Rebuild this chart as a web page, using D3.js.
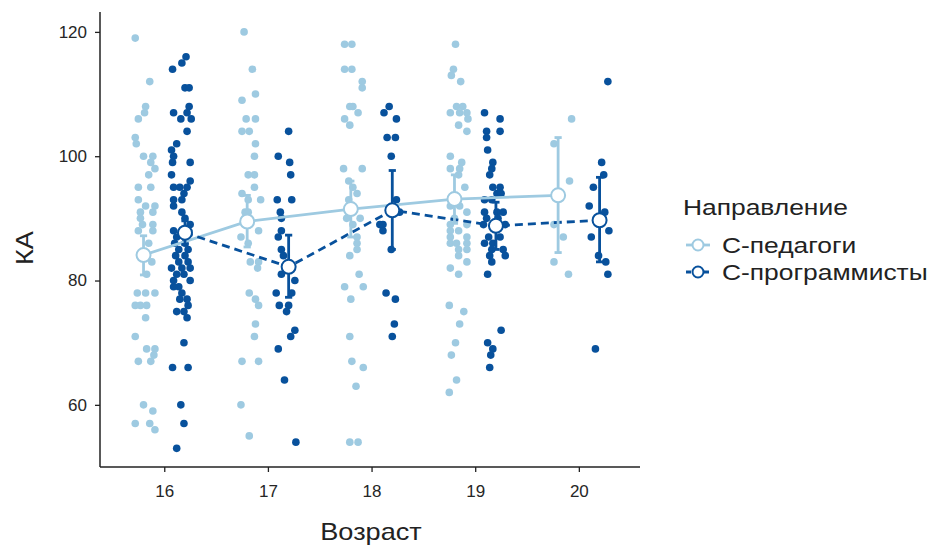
<!DOCTYPE html>
<html><head><meta charset="utf-8">
<script src="https://cdn.jsdelivr.net/npm/d3@7"></script>
<style>body{margin:0;background:#fff}svg{display:block}text{font-family:"Liberation Sans",Arial,Helvetica,sans-serif}</style>
</head><body>
<svg id="chart" width="936" height="548"></svg>
<script>
// ---- data ----
const ages = [16, 17, 18, 19, 20];
const groups = ["С-педагоги", "С-программисты"];
const xTicks = [16, 17, 18, 19, 20];
const yTicks = [60, 80, 100, 120];

// jittered raw points: [x position (age units), КА]
const pointsPed = [
 [15.72,119],[15.86,112],[15.82,108],[15.81,107],[15.75,106],[15.72,103],[15.73,102],[15.80,100],[15.89,100],
 [15.87,99],[15.91,98],[15.85,97],[15.75,95],[15.87,95],[15.75,93],[15.82,92],[15.91,92],[15.77,91],[15.89,91],
 [15.77,90],[15.79,89],[15.89,89],[15.75,88],[15.89,88],[15.85,86],[15.88,83],[15.83,81],[15.74,78],[15.82,78],
 [15.91,78],[15.72,76],[15.77,76],[15.83,76],[15.82,74],[15.72,71],[15.83,69],[15.91,69],[15.90,68],[15.75,67],
 [15.87,67],[15.80,60],[15.89,59],[15.72,57],[15.86,57],[15.91,56],
 [16.77,120],[16.85,114],[16.88,110],[16.75,109],[16.79,106],[16.88,106],[16.75,104],[16.82,104],[16.88,102],
 [16.87,100],[16.81,97],[16.87,97],[16.87,95],[16.75,94],[16.81,93],[16.93,93],[16.78,91],[16.81,91],[16.74,87],
 [16.91,88],[16.81,86],[16.83,83],[16.91,83],[16.90,82],[16.82,78],[16.88,77],[16.91,76],[16.88,73],[16.87,71],
 [16.75,67],[16.91,67],[16.74,60],[16.82,55],
 [17.74,118],[17.81,118],[17.74,114],[17.81,114],[17.91,112],[17.91,111],[17.79,108],[17.82,108],[17.87,107],
 [17.74,106],[17.79,105],[17.73,98],[17.91,98],[17.78,96],[17.82,95],[17.86,94],[17.78,93],[17.81,92],[17.76,90],
 [17.89,90],[17.82,89],[17.86,87],[17.86,86],[17.86,85],[17.79,84],[17.88,81],[17.74,79],[17.92,79],[17.80,77],
 [17.79,71],[17.81,67],[17.92,66],[17.85,63],[17.79,54],[17.87,54],
 [18.81,118],[18.79,114],[18.77,113],[18.86,112],[18.82,108],[18.88,108],[18.92,107],[18.76,107],[18.85,107],
 [18.93,106],[18.84,105],[18.92,104],[18.76,100],[18.87,99],[18.76,98],[18.85,98],[18.84,97],[18.90,95],[18.76,92],
 [18.85,92],[18.92,91],[18.76,89],[18.80,90],[18.92,89],[18.76,88],[18.84,88],[18.76,87],[18.92,87],[18.76,86],
 [18.82,86],[18.92,86],[18.84,85],[18.92,85],[18.84,84],[18.92,83],[18.76,82],[18.84,81],[18.75,76],[18.89,75],
 [18.85,73],[18.81,70],[18.77,68],[18.82,64],[18.75,62],
 [19.93,106],[19.76,102],[19.91,96],[19.76,89],[19.85,87],[19.76,83],[19.90,81]
];
const pointsProg = [
 [16.21,116],[16.17,115],[16.08,114],[16.20,111],[16.24,111],[16.24,108],[16.09,107],[16.22,107],[16.16,106],
 [16.26,106],[16.22,104],[16.12,102],[16.07,101],[16.09,100],[16.08,99],[16.25,99],[16.07,97],[16.25,96],
 [16.09,95],[16.15,95],[16.22,95],[16.19,94],[16.09,93],[16.17,93],[16.09,92],[16.17,91],[16.20,90],[16.09,88],
 [16.22,88],[16.12,87],[16.25,89],[16.10,86],[16.20,86],[16.14,85],[16.23,85],[16.11,84],[16.20,84],[16.14,83],
 [16.23,83],[16.07,82],[16.17,82],[16.25,82],[16.12,81],[16.19,81],[16.09,80],[16.25,80],[16.14,79],[16.09,79],
 [16.17,78],[16.22,77],[16.15,77],[16.23,76],[16.12,75],[16.19,75],[16.22,74],[16.19,70],[16.08,66],[16.23,66],
 [16.16,60],[16.19,57],[16.12,53],
 [17.20,104],[17.10,100],[17.21,99],[17.22,97],[17.09,93],[17.23,93],[17.12,91],[17.13,90],[17.13,88],[17.10,87],
 [17.13,85],[17.15,84],[17.13,81],[17.26,80],[17.08,78],[17.23,78],[17.11,76],[17.20,76],[17.18,75],[17.26,72],
 [17.22,71],[17.10,69],[17.16,64],[17.27,54],
 [18.17,108],[18.12,107],[18.24,106],[18.15,103],[18.23,103],[18.19,100],[18.24,93],[18.27,91],[18.08,89],
 [18.11,89],[18.11,88],[18.19,85],[18.14,78],[18.23,77],[18.22,73],[18.20,71],
 [19.09,107],[19.24,106],[19.11,104],[19.24,104],[19.11,103],[19.12,101],[19.17,99],[19.16,98],[19.14,97],
 [19.17,95],[19.24,95],[19.21,94],[19.25,94],[19.09,93],[19.16,93],[19.09,91],[19.21,91],[19.27,91],[19.11,90],
 [19.22,90],[19.08,89],[19.29,89],[19.13,87],[19.24,87],[19.09,86],[19.17,86],[19.16,85],[19.27,85],[19.14,84],
 [19.29,84],[19.16,83],[19.12,81],[19.25,72],[19.12,70],[19.17,69],[19.15,68],[19.14,66],
 [20.28,112],[20.22,99],[20.24,97],[20.14,95],[20.10,92],[20.25,91],[20.29,88],[20.12,87],[20.19,84],[20.26,83],
 [20.28,81],[20.16,69]
];

// group means and interval ends
const meanPed  = [84.1, 89.5, 91.5, 93.1, 93.7];
const lowPed   = [80.9, 85.4, 87.0, 89.2, 84.5];
const highPed  = [87.2, 93.7, 96.0, 97.0, 103.0];
const meanProg = [87.7, 82.2, 91.3, 88.8, 89.7];
const lowProg  = [85.8, 77.3, 85.0, 85.0, 83.0];
const highProg = [89.6, 87.3, 97.7, 92.6, 96.6];

const colors = ["#9ecae1", "#08519c"];
const dodge = [-0.2, 0.2];

// ---- drawing ----
const svg = d3.select("#chart");
const x = d3.scaleLinear().domain([15.38, 20.59]).range([100, 640]);
const y = d3.scaleLinear().domain([50, 123.2]).range([467, 12]);

const series = [
  {name: groups[0], pts: pointsPed, mean: meanPed, lo: lowPed, hi: highPed, color: colors[0], dash: null, off: dodge[0]},
  {name: groups[1], pts: pointsProg, mean: meanProg, lo: lowProg, hi: highProg, color: colors[1], dash: "8,5", off: dodge[1]}
];

// raw points
series.forEach(s => {
  svg.append("g").selectAll("circle").data(s.pts).join("circle")
    .attr("cx", d => x(d[0])).attr("cy", d => y(d[1])).attr("r", 3.8)
    .attr("fill", s.color);
});

// mean lines
series.forEach(s => {
  const line = d3.line().x((d, i) => x(ages[i] + s.off)).y(d => y(d));
  svg.append("path").datum(s.mean).attr("d", line)
    .attr("fill", "none").attr("stroke", s.color).attr("stroke-width", 2.8)
    .attr("stroke-dasharray", s.dash);
});

// error bars
series.forEach(s => {
  const g = svg.append("g").attr("stroke", s.color).attr("stroke-width", 2.8).attr("fill", "none");
  ages.forEach((a, i) => {
    const cx = x(a + s.off);
    g.append("line").attr("x1", cx).attr("x2", cx).attr("y1", y(s.lo[i])).attr("y2", y(s.hi[i]));
    g.append("line").attr("x1", cx - 3.6).attr("x2", cx + 3.6).attr("y1", y(s.lo[i])).attr("y2", y(s.lo[i]));
    g.append("line").attr("x1", cx - 3.6).attr("x2", cx + 3.6).attr("y1", y(s.hi[i])).attr("y2", y(s.hi[i]));
  });
});

// mean points
series.forEach(s => {
  svg.append("g").selectAll("circle").data(s.mean).join("circle")
    .attr("cx", (d, i) => x(ages[i] + s.off)).attr("cy", d => y(d)).attr("r", 7)
    .attr("fill", "#fff").attr("stroke", s.color).attr("stroke-width", 2);
});

// axes
const xAxis = svg.append("g").attr("transform", "translate(0,467)")
  .call(d3.axisBottom(x).tickValues(xTicks).tickFormat(d3.format("d")).tickSize(5).tickPadding(13));
const yAxis = svg.append("g").attr("transform", "translate(100,0)")
  .call(d3.axisLeft(y).tickValues(yTicks).tickFormat(d3.format("d")).tickSize(5).tickPadding(8));
[xAxis, yAxis].forEach(a => {
  a.select(".domain").attr("stroke", "#222").attr("stroke-width", 1.5);
  a.selectAll(".tick line").attr("stroke", "#222").attr("stroke-width", 1.3);
  a.selectAll(".tick text").attr("fill", "#262626").style("font-size", "17px")
    .style("font-family", '"Liberation Sans", Arial, sans-serif');
});
xAxis.select(".domain").attr("d", "M100,0H640");
yAxis.select(".domain").attr("d", "M0,12V467");

// axis titles (glyphs in the reference are wider than Liberation Sans)
svg.append("text").attr("transform", "translate(371,540) scale(1.18,1)").attr("text-anchor", "middle")
  .style("font-size", "23px").attr("fill", "#222").text("Возраст");
svg.append("text").attr("transform", "translate(33,248) rotate(-90) scale(1.18,1)").attr("text-anchor", "middle")
  .style("font-size", "23px").attr("fill", "#222").text("КА");

// legend
const lg = svg.append("g");
lg.append("text").attr("transform", "translate(683,215) scale(1.2,1)").style("font-size", "22px").attr("fill", "#222").text("Направление");
series.forEach((s, i) => {
  const cy = 245 + i * 27;
  lg.append("line").attr("x1", 686).attr("x2", 710).attr("y1", cy).attr("y2", cy)
    .attr("stroke", s.color).attr("stroke-width", 2.8).attr("stroke-dasharray", s.dash ? "5,4" : null);
  lg.append("circle").attr("cx", 698).attr("cy", cy).attr("r", 5.5)
    .attr("fill", "#fff").attr("stroke", s.color).attr("stroke-width", 2);
  lg.append("text").attr("transform", `translate(722,${cy + 8}) scale(1.2,1)`).style("font-size", "22px")
    .attr("fill", "#222").text(s.name);
});
</script>
</body></html>
